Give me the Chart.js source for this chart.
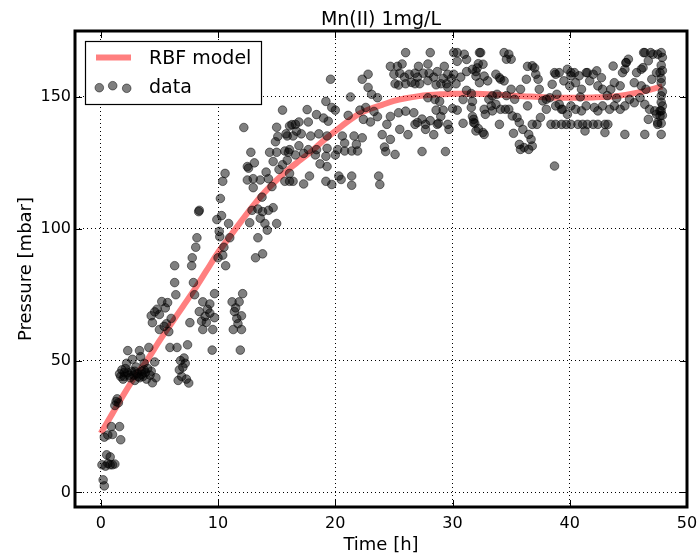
<!DOCTYPE html>
<html>
<head>
<meta charset="utf-8">
<title>Mn(II) 1mg/L</title>
<script src="https://cdn.jsdelivr.net/npm/chart.js@4.4.1/dist/chart.umd.min.js"></script>
<style>
  html, body { margin: 0; padding: 0; background: #fff; }
  canvas { display: block; }
</style>
</head>
<body>
<canvas id="pressureChart" width="697" height="557"></canvas>
<script>
// axis ticks
const xTicks = [0, 10, 20, 30, 40, 50];
const yTicks = [0, 50, 100, 150];

// RBF model curve (time h, pressure mbar)
const modelTime = [0, 1, 2, 3, 4, 5, 6, 7, 8, 9, 10, 11, 12, 13, 14, 15, 16, 17, 18, 19,
  20, 21, 22, 23, 24, 25, 26, 27, 28, 29, 30, 32, 34, 36, 38, 40, 42, 44, 46, 47.9];
const modelPressure = [22.5, 30, 37.5, 44.5, 50.5, 57.5, 64, 70.5, 77, 84, 91, 97, 103, 108.8, 114, 118.5, 122.5, 126, 129.5, 133.5,
  137, 140.5, 143.5, 145.5, 147, 148.5, 149.5, 150.2, 150.7, 151, 151.2, 151.2, 150.8, 150.3, 149.8, 149.7, 149.8, 150.3, 151.8, 154];

// measured data [time h, pressure mbar], grouped by time window
const data0to2h = [[0.2,4.8],[0.3,2.5],[0.1,10.5],[0.4,10],[0.6,11],[0.8,10.5],[1.0,10.5],[1.2,10.8],
  [0.5,14.3],[0.8,13.5],[0.6,21.8],[0.9,25],[1.0,22],[1.6,25],[1.7,20],[0.3,21],[1.2,33],[1.3,34.5],[1.4,35.5],[1.5,34]];

const data2to8h = [[1.6,45],[1.8,46.5],[2.0,44],[2.1,47],[2.3,45.5],[2.5,43.5],[2.6,46],[2.8,44.5],[3.0,47.6],
  [3.1,45],[3.3,43.5],[3.5,46],[3.6,44],[3.8,45.5],[4.0,47],[4.2,44.5],[4.4,41.6],[4.7,43.5],[2.2,49],[2.3,53.8],
  [2.7,50.5],[3.3,53.8],[3.7,49],[4.1,55],[4.6,49.5],[3.4,51.5],[1.9,43],[2.9,42.5],[4.3,46],[3.9,43],
  [2.4,44.5],[2.9,46],[3.2,44],[3.5,44.8],[2.0,45.5],[1.7,44],[3.7,46.5],
  [5.9,55],[6.5,55],[7.4,56],[7.1,51],[7.2,49],[6.8,50],[6.7,46.5],[6.9,44],[6.6,42.5],[7.3,43],[7.5,41.5],[7.0,47.5],
  [4.3,67],[4.6,68.5],[5.0,67.5],[4.4,64.4],[5.2,72.4],[5.7,72],[5.0,61.8],[5.6,64],[5.8,61],[6.0,66],[5.4,63],
  [6.3,79.6],[6.4,75],[6.3,86],[7.9,79.6],[8.0,75],[7.6,64.4],[7.75,86],[7.8,89],[4.8,69.5],[5.5,70]];

const data8to12h = [[8.1,93],[8.2,96.6],[8.35,106.5],[8.4,107],
  [8.7,72.3],[9.3,71.5],[8.4,68.6],[8.9,66.8],[9.3,68],[9.7,66.3],[8.7,61.8],[9.55,61.8],[9.7,75.4],[9.0,64.5],
  [9.1,69.5],[8.6,65],[11.2,72.3],[11.8,72.3],[11.4,68.6],[11.6,66],[12.0,67],[11.3,61.8],[12.0,61.8],[12.1,75.4],
  [11.9,54],[9.5,54],[11.7,64],[11.5,70],
  [10.4,118],[10.6,121],[10.2,111.5],[9.9,103.5],[10.3,105],[10.9,102],[10.15,97],[10.0,89],[10.4,90],[11.0,96.6],
  [10.65,86],[10.5,93],[10.1,99]];

const data12to16h = [[12.2,138.4],[12.8,129],[12.5,123.6],[12.6,123],[13.1,125],[12.5,118.5],[13.0,119],[13.6,118.5],
  [14.3,119],[13.0,115.6],[13.75,112],[12.9,107],[13.4,107.5],[13.8,106.5],[14.3,107],[14.7,108],[13.6,104],[14.0,102],
  [12.7,102.3],[15.0,102],[14.2,99.5],[13.4,96.6],[13.2,89],[13.8,90.5],[14.6,116],[14.4,129],[15.0,129],[15.7,129.5],
  [16.0,129],[15.9,126],[14.7,125.5],[15.5,124.3],[15.2,122.5],[15.7,118],[16.4,118],[16.1,121],[15.1,135],[15.8,136],
  [16.7,137],[15.0,138.5],[16.1,139],[15.5,145],[16.3,139.5],[14.9,133],[14.1,121.5]];

const data16to24h = [[17.6,145.2],[18.4,143.3],[19.0,142],[19.4,140.8],[16.6,139.6],[16.9,140.5],[17.7,140.5],
  [19.2,148.3],[19.6,156.7],[19.7,146],[20.0,145],
  [15.9,135.2],[16.4,135.2],[17.1,136],[17.9,135.2],[18.6,136],[19.3,135.2],
  [16.1,130],[16.9,131.5],[17.7,130],[18.4,130],[19.3,130.5],
  [16.6,128],[17.3,128.6],[18.3,128],[19.2,127.5],[20.0,128],[18.7,124.6],[19.3,123.6],
  [16.1,118],[17.3,117],[17.8,120],[19.2,118],[19.7,116.8],[20.3,120],[20.5,118.7],[21.4,120],[21.4,116.5],[23.7,120],[23.8,116.8],
  [20.2,130],[20.8,129.5],[21.4,129.5],[21.9,129.5],[21.8,132],[20.8,132.5],
  [20.6,135.2],[21.6,135.2],[22.3,134.5],
  [21.1,143],[22.1,145],[22.6,146],[21.3,150],
  [22.3,156.7],[22.8,158.6],[22.8,153.6],[23.1,151],[23.6,149.7],
  [22.4,141.5],[23.0,140.5],[23.6,142.5],[23.3,144.5]];

const data24to32h = [[24.0,135.7],[24.7,133.9],[25.1,128.2],[24.3,129.3],[24.2,131],[24.4,139.6],[24.7,142.6],
  [25.4,144],[26.0,144.6],[26.7,144],
  [24.7,161.6],[25.3,161.6],[25.7,162.5],[26.0,166.8],[25.0,158.6],[25.5,159],[25.9,157.5],[26.3,158.6],[26.8,159],[27.0,157.5],
  [25.1,155],[25.4,154.5],[26.0,155],[26.5,155.5],[26.8,155],
  [25.5,137.7],[26.2,135.7],[26.8,139.6],[27.4,141.6],[27.7,139.6],[28.1,141],[27.4,129.3],[27.7,137.7],[28.4,135.7],
  [27.1,161.6],[27.5,159],[27.9,162.5],[28.1,166.8],[28.0,159],[28.4,157.5],[28.7,159.6],[29.2,157],[29.3,161.6],
  [29.6,158.6],[29.5,155],[29.9,157],
  [27.2,155],[27.9,156.2],[28.6,154.6],[29.0,155],[29.6,153.7],
  [27.9,149.7],[28.5,149],[28.9,148.3],[28.6,145],[29.2,145],[29.0,142.6],[28.7,139.6],[29.6,139.6],[29.7,137.7],[29.4,129.3],
  [27.0,140.3],[28.8,140],
  [30.1,166.8],[30.4,166.8],[31.0,166.2],[31.2,164.2],[30.4,163.5],[31.2,159.6],[30.7,157.5],[30.1,158.6],[30.3,155],
  [31.2,152.5],[31.6,151.3],[32.0,159.6],[32.2,162.6],[32.3,166.8],[30.9,149],[31.7,148.3],
  [30.0,145.6],[30.4,145],[30.9,140],[31.9,140],[32.2,138],[31.7,142.6],[31.6,146],[32.6,136.5]];

const data32to48h = [[32.4,166.8],[34.4,166.8],[34.8,166.2],[34.6,164.3],[35.0,164.3],
  [36.8,161.8],[32.1,161],[32.6,162.4],[31.7,160.5],
  [32.0,157.9],[32.7,157.9],[32.3,155.4],[33.0,156.1],[33.7,158.6],[34.0,157.3],[34.4,156.1],[34.1,156.7],
  [33.4,150.4],[33.1,149.1],[33.8,151],[34.6,150.5],
  [32.7,145.3],[33.3,146.6],[33.7,147.2],[34.1,145.3],[34.5,145.3],[34.8,145.3],[33.4,144.7],[32.8,143.4],
  [31.8,141.5],[31.8,140.3],[32.0,137.1],[32.7,135.8],[34.0,139.6],
  [36.3,156.7],[35.3,149.1],[35.0,152.9],[35.8,152.9],
  [37.0,161],[37.1,158.6],[37.3,156.7],[37.4,152.9],[36.4,146.6],[37.7,148.5],
  [35.1,142.8],[35.5,142.2],[35.7,140.3],[36.0,137.7],[36.5,135.8],[36.7,133.9],[35.7,132],[36.1,130.8],
  [36.5,130.1],[35.2,136.2],[35.8,130.1],[36.8,131.4],
  [36.8,139.6],[37.2,139.6],[37.5,142.2],[38.7,123.8],
  [38.0,149.1],[38.3,149.7],[38.0,145.3],[39.1,147.2],[39.4,145.3],[38.9,151],[40.9,150],[43.2,150.5],[44.0,149.5],
  [38.5,154.8],[38.8,158.6],[39.1,159.2],[39.5,156.1],[40.1,158],[40.0,154.2],[39.8,160.5],[40.4,159.2],[40.8,158],
  [40.5,155.4],[41.0,152.9],[41.4,159.2],[41.7,156.1],[42.0,158.6],[42.3,159.9],[42.4,154.2],[42.8,152.9],[42.7,157.3],
  [38.4,139.6],[38.8,139.6],[39.3,139.6],[39.7,139.6],[40.1,139.6],[40.7,139.6],[41.1,139.6],[41.5,139.6],
  [42.0,139.6],[42.4,139.6],[43.0,139.6],[43.25,139.6],
  [38.8,146.6],[39.3,145.3],[39.8,143.4],[40.1,146.6],[40.5,145.3],[41.0,144.7],[41.4,146.6],[42.1,146],[42.4,144.7],[42.8,146.6],
  [41.3,137.1],[43.0,136.5],
  [43.4,145.3],[43.8,146.6],[44.3,145.3],[44.7,146.6],[45.1,149.1],[45.5,147.8],[46.0,149.7],[46.4,147.2],[46.8,145.3],
  [47.25,144.7],[47.4,143.4],[47.7,144.7],[46.7,141.5],[47.5,140.3],
  [43.5,152.9],[43.8,155.4],[44.3,154.2],[44.5,159.2],[44.8,163],[45.0,164.3],[44.7,160.5],[45.5,155.4],[45.7,159.2],
  [46.25,161.1],[46.4,166.8],[46.7,163.7],[47.1,166.2],[47.5,166.2],[47.8,166.8],[47.0,156.7],[47.4,159.2],[47.7,159.2],
  [47.8,155.4],[46.1,154.2],[46.5,152.9],
  [47.8,140],[47.9,143],[47.8,148],[47.9,152],[47.8,157],[47.9,160],[47.8,162],[47.9,165],[47.8,150.4],[47.9,146.6],
  [47.8,144.7],[47.7,142.8],
  [44.7,135.8],[46.4,135.8],[47.8,135.8],[47.5,139.6],
  [36.4,161.6],[38.7,159.2],[40.1,159.2],[41.5,159.2],[43.7,161.7],[44.8,163],[46.3,166.8],[46.9,166.8],[46.1,160.5]];

const FONT = 'DejaVu Sans';

const modelPoints = modelTime.map((t, i) => ({ x: t, y: modelPressure[i] }));
const dataPoints = [data0to2h, data2to8h, data8to12h, data12to16h, data16to24h, data24to32h, data32to48h]
  .flat()
  .map(p => ({ x: p[0], y: p[1] }));

// matplotlib-like frame, inward ticks, title, axis labels and boxed legend
const mplDecor = {
  id: 'mplDecor',
  afterDraw(chart) {
    const { ctx, chartArea: a, scales: { x, y } } = chart;
    ctx.save();
    ctx.strokeStyle = '#000';
    ctx.lineWidth = 1;
    ctx.beginPath();
    xTicks.forEach(v => {
      const px = Math.round(x.getPixelForValue(v)) + 0.5;
      ctx.moveTo(px, a.bottom); ctx.lineTo(px, a.bottom - 7);
      ctx.moveTo(px, a.top); ctx.lineTo(px, a.top + 7);
    });
    yTicks.forEach(v => {
      const py = Math.round(y.getPixelForValue(v)) + 0.5;
      ctx.moveTo(a.left, py); ctx.lineTo(a.left + 7, py);
      ctx.moveTo(a.right, py); ctx.lineTo(a.right - 7, py);
    });
    ctx.stroke();

    ctx.lineWidth = 3;
    ctx.strokeRect(a.left, a.top, a.right - a.left, a.bottom - a.top);

    const midX = (a.left + a.right) / 2;
    ctx.fillStyle = '#000';
    ctx.textAlign = 'center';
    ctx.textBaseline = 'alphabetic';
    ctx.font = '19px "' + FONT + '"';
    ctx.fillText('Mn(II) 1mg/L', midX, 25);

    ctx.font = '18px "' + FONT + '"';
    ctx.fillText('Time [h]', midX, 550);
    ctx.save();
    ctx.translate(31, (a.top + a.bottom) / 2);
    ctx.rotate(-Math.PI / 2);
    ctx.fillText('Pressure [mbar]', 0, 0);
    ctx.restore();

    // legend
    const ds = chart.data.datasets;
    ctx.fillStyle = '#fff';
    ctx.fillRect(85, 41, 177, 64);
    ctx.lineWidth = 1.2;
    ctx.strokeStyle = '#000';
    ctx.strokeRect(85.5, 41.5, 176, 63);

    ctx.strokeStyle = ds[0].borderColor;
    ctx.lineWidth = 6;
    ctx.beginPath();
    ctx.moveTo(96, 57.5); ctx.lineTo(131, 57.5);
    ctx.stroke();

    [[99.3, 87.7], [112.7, 85.7], [126.7, 88.3]].forEach(([cx, cy]) => {
      ctx.beginPath();
      ctx.arc(cx, cy, 4.3, 0, Math.PI * 2);
      ctx.fillStyle = ds[1].pointBackgroundColor;
      ctx.fill();
      ctx.lineWidth = 1;
      ctx.strokeStyle = ds[1].pointBorderColor;
      ctx.stroke();
    });

    ctx.fillStyle = '#000';
    ctx.textAlign = 'left';
    ctx.font = '19px "' + FONT + '"';
    ctx.fillText(ds[0].label, 149, 64);
    ctx.fillText(ds[1].label, 149, 93);
    ctx.restore();
  }
};

const tickFont = { family: FONT, size: 16 };

new Chart(document.getElementById('pressureChart').getContext('2d'), {
  type: 'scatter',
  data: {
    datasets: [
      {
        label: 'RBF model',
        data: modelPoints,
        showLine: true,
        borderColor: 'rgba(255, 0, 0, 0.5)',
        borderWidth: 6,
        pointRadius: 0,
        cubicInterpolationMode: 'monotone',
        order: 2
      },
      {
        label: 'data',
        data: dataPoints,
        pointRadius: 4.3,
        pointBorderWidth: 1,
        pointBackgroundColor: 'rgba(0, 0, 0, 0.5)',
        pointBorderColor: 'rgba(0, 0, 0, 0.5)',
        order: 1
      }
    ]
  },
  options: {
    responsive: false,
    animation: false,
    devicePixelRatio: 1,
    events: [],
    layout: { padding: { top: 31, right: 10, left: 0, bottom: 0 } },
    plugins: {
      legend: { display: false },
      title: { display: false },
      tooltip: { enabled: false }
    },
    scales: {
      x: {
        type: 'linear',
        min: -2.2,
        max: 50,
        afterBuildTicks: s => { s.ticks = xTicks.map(v => ({ value: v })); },
        afterFit: s => { s.height = 50; s.paddingLeft = 0; s.paddingRight = 0; },
        grid: { color: '#000', lineWidth: 1, drawTicks: false },
        border: { display: false, dash: [1, 3] },
        ticks: { color: '#000', font: tickFont, padding: 7, maxRotation: 0 }
      },
      y: {
        type: 'linear',
        min: -5.5,
        max: 175,
        afterBuildTicks: s => { s.ticks = yTicks.map(v => ({ value: v })); },
        afterFit: s => { s.width = 75; s.paddingTop = 0; s.paddingBottom = 0; },
        grid: { color: '#000', lineWidth: 1, drawTicks: false },
        border: { display: false, dash: [1, 3] },
        ticks: { color: '#000', font: tickFont, padding: 4 }
      }
    }
  },
  plugins: [mplDecor]
});
</script>
</body>
</html>
